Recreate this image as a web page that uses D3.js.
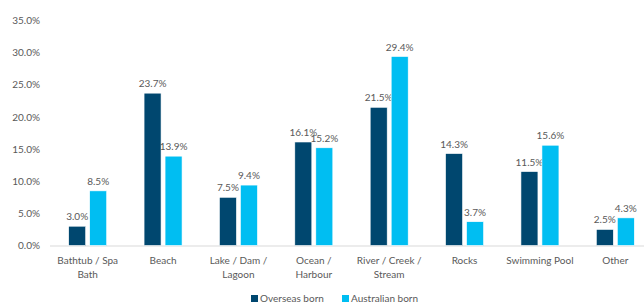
<!DOCTYPE html>
<html>
<head>
<meta charset="utf-8">
<script src="https://cdn.jsdelivr.net/npm/d3@7"></script>
<style>
  body { margin: 0; background: #fff; }
  svg { display: block; font-family: Lato, "Open Sans", sans-serif; }
</style>
</head>
<body>
<div id="chart"></div>
<script>
// categories and series values (percent)
var categories = [["Bathtub / Spa", "Bath"], ["Beach"], ["Lake / Dam /", "Lagoon"], ["Ocean /", "Harbour"],
                  ["River / Creek /", "Stream"], ["Rocks"], ["Swimming Pool"], ["Other"]];
var overseas = [3.0, 23.7, 7.5, 16.1, 21.5, 14.3, 11.5, 2.5];
var australian = [8.5, 13.9, 9.4, 15.2, 29.4, 3.7, 15.6, 4.3];
var seriesNames = ["Overseas born", "Australian born"];
var yTicks = [0, 5, 10, 15, 20, 25, 30, 35];

var width = 644, height = 305;
var colors = ["#00476F", "#00BEF2"];
var textColor = "#595959";

var svg = d3.select("#chart").append("svg")
            .attr("width", width)
            .attr("height", height);

// scales
var x = d3.scaleBand()
          .domain(d3.range(categories.length))
          .range([50, 653])
          .paddingInner(0)
          .paddingOuter(0);

var y = d3.scaleLinear()
          .domain([0, 35])
          .range([245.5, 20.5]);

var barW = 17, gap = 4;

// y axis labels
var yAxis = svg.append("g")
    .attr("transform", "translate(40,0)")
    .call(d3.axisLeft(y).tickValues(yTicks).tickSize(0).tickPadding(0)
            .tickFormat(function(d) { return d.toFixed(1) + "%"; }));
yAxis.select(".domain").remove();
yAxis.selectAll("text")
     .attr("fill", textColor)
     .style("font-size", "10px")
     .style("font-family", "Lato, 'Open Sans', sans-serif");

// baseline
svg.append("line")
   .attr("x1", 50).attr("x2", width)
   .attr("y1", y(0) + 0.5).attr("y2", y(0) + 0.5)
   .attr("stroke", "#d9d9d9")
   .attr("stroke-width", 1);

var series = [overseas, australian];

series.forEach(function(values, s) {
  var g = svg.append("g");
  var xOff = function(i) {
    var c = x(i) + x.bandwidth() / 2;
    return s === 0 ? c - gap / 2 - barW : c + gap / 2;
  };

  g.selectAll("rect")
   .data(values)
   .enter().append("rect")
   .attr("x", function(d, i) { return xOff(i); })
   .attr("y", function(d) { return y(d); })
   .attr("width", barW)
   .attr("height", function(d) { return y(0) - y(d); })
   .attr("fill", colors[s])
   .attr("stroke", "#ffffff")
   .attr("stroke-width", 0.6);

  g.selectAll("text")
   .data(values)
   .enter().append("text")
   .attr("x", function(d, i) { return xOff(i) + barW / 2; })
   .attr("y", function(d) { return y(d) - 6; })
   .attr("text-anchor", "middle")
   .attr("fill", textColor)
   .style("font-size", "10px")
   .text(function(d) { return d.toFixed(1) + "%"; });
});

// category labels
var cat = svg.append("g");
categories.forEach(function(lines, i) {
  var t = cat.append("text")
     .attr("x", x(i) + x.bandwidth() / 2)
     .attr("y", 264)
     .attr("text-anchor", "middle")
     .attr("fill", textColor)
     .style("font-size", "10px");
  lines.forEach(function(l, k) {
    t.append("tspan")
     .attr("x", x(i) + x.bandwidth() / 2)
     .attr("dy", k === 0 ? 0 : 14)
     .text(l);
  });
});

// legend
var legendX = [251, 342];
var legend = svg.append("g");
seriesNames.forEach(function(name, s) {
  legend.append("rect")
        .attr("x", legendX[s]).attr("y", 295)
        .attr("width", 7).attr("height", 7)
        .attr("fill", colors[s]);
  legend.append("text")
        .attr("x", legendX[s] + 9).attr("y", 302)
        .attr("fill", textColor)
        .style("font-size", "10px")
        .text(name);
});
</script>
</body>
</html>
